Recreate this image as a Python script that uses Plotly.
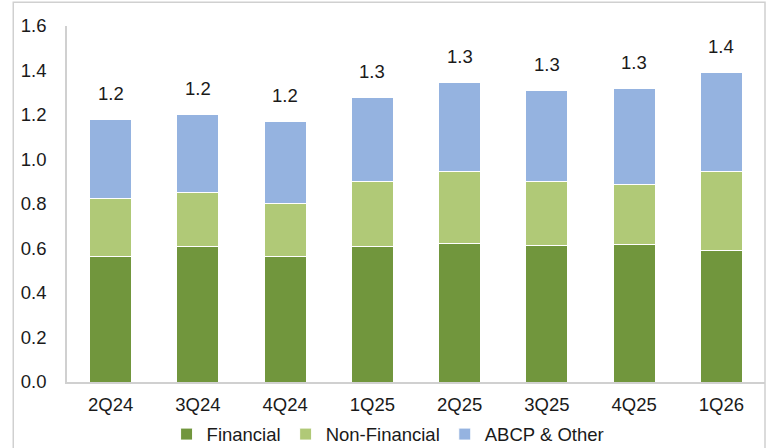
import plotly.graph_objects as go

categories = ["2Q24", "3Q24", "4Q24", "1Q25", "2Q25", "3Q25", "4Q25", "1Q26"]
financial = [0.564, 0.610, 0.566, 0.608, 0.623, 0.613, 0.616, 0.589]
non_financial = [0.260, 0.241, 0.237, 0.293, 0.321, 0.290, 0.271, 0.355]
abcp_other = [0.354, 0.352, 0.367, 0.377, 0.400, 0.407, 0.433, 0.446]
y_ticks = [0.0, 0.2, 0.4, 0.6, 0.8, 1.0, 1.2, 1.4, 1.6]

FONT = "Liberation Sans, Arial, sans-serif"
TXT = "#1a1a1a"

fig = go.Figure()
for name, vals, col in [
    ("Financial", financial, "#71963D"),
    ("Non-Financial", non_financial, "#B0C977"),
    ("ABCP & Other", abcp_other, "#95B3E0"),
]:
    fig.add_trace(go.Bar(
        x=categories, y=vals, name=name,
        marker=dict(color=col, line=dict(color="white", width=1)),
        hoverinfo="x+y+name",
    ))

totals = [f + n + a for f, n, a in zip(financial, non_financial, abcp_other)]
for c, t in zip(categories, totals):
    fig.add_annotation(
        x=c, y=t, text=f"{t:.1f}", showarrow=False,
        yanchor="middle", yshift=26,
        font=dict(family=FONT, size=18.5, color=TXT),
    )

# outer chart frame
fig.add_shape(type="rect", xref="paper", yref="paper",
              x0=-0.077, x1=1.0, y0=-0.3, y1=1.067,
              line=dict(color="#d0d0d0", width=1.5), layer="below")

fig.update_layout(
    width=772, height=448,
    margin=dict(l=67, r=7, t=26, b=66, autoexpand=False),
    paper_bgcolor="white", plot_bgcolor="white",
    barmode="stack", bargap=0.52,
    font=dict(family=FONT, size=18.5, color=TXT),
    showlegend=True,
    legend=dict(orientation="h", xref="paper", x=0.46, xanchor="center",
                yref="container", y=0.03, yanchor="middle",
                font=dict(family=FONT, size=18.5, color=TXT),
                traceorder="normal", itemwidth=30, bgcolor="rgba(0,0,0,0)"),
)
fig.update_xaxes(
    showline=True, linecolor="#d0d0d0", linewidth=1.5,
    showgrid=False, ticks="", ticklabelstandoff=5, automargin=False,
    tickfont=dict(family=FONT, size=18.5, color=TXT),
)
fig.update_yaxes(
    range=[0, 1.6], tickvals=y_ticks, tickformat=".1f",
    showline=True, linecolor="#d0d0d0", linewidth=1.5,
    showgrid=False, zeroline=False, ticks="", ticklabelstandoff=15, automargin=False,
    tickfont=dict(family=FONT, size=18.5, color=TXT),
)

fig.write_html("out.html", config={"displayModeBar": False},
               post_script="document.body.style.margin='0';document.body.style.overflow='hidden';")
